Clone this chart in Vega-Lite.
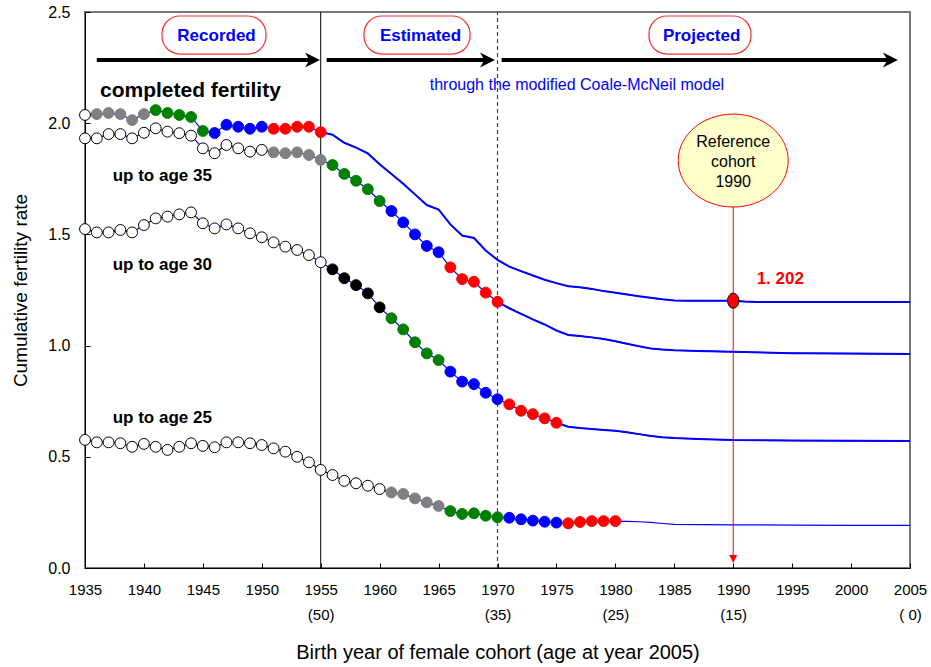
{
  "$schema": "https://vega.github.io/schema/vega-lite/v6.json",
  "width": 825,
  "height": 556,
  "autosize": {"type": "none"},
  "padding": {"left": 85, "top": 12, "right": 21, "bottom": 99},
  "background": "white",
  "config": {
    "view": {"stroke": "#777777", "strokeWidth": 2},
    "axis": {"grid": false, "domainColor": "#000000", "tickColor": "#000000", "labelColor": "#000000", "titleColor": "#000000", "titleFontWeight": "normal"}
  },
  "datasets": {
    "series": [
      {"series": "completed", "year": 1935, "rate": 2.037, "marker": "open"},
      {"series": "completed", "year": 1936, "rate": 2.041, "marker": "gray"},
      {"series": "completed", "year": 1937, "rate": 2.046, "marker": "gray"},
      {"series": "completed", "year": 1938, "rate": 2.041, "marker": "gray"},
      {"series": "completed", "year": 1939, "rate": 2.014, "marker": "gray"},
      {"series": "completed", "year": 1940, "rate": 2.041, "marker": "gray"},
      {"series": "completed", "year": 1941, "rate": 2.059, "marker": "green"},
      {"series": "completed", "year": 1942, "rate": 2.046, "marker": "green"},
      {"series": "completed", "year": 1943, "rate": 2.037, "marker": "green"},
      {"series": "completed", "year": 1944, "rate": 2.028, "marker": "green"},
      {"series": "completed", "year": 1945, "rate": 1.965, "marker": "green"},
      {"series": "completed", "year": 1946, "rate": 1.956, "marker": "blue"},
      {"series": "completed", "year": 1947, "rate": 1.993, "marker": "blue"},
      {"series": "completed", "year": 1948, "rate": 1.984, "marker": "blue"},
      {"series": "completed", "year": 1949, "rate": 1.975, "marker": "blue"},
      {"series": "completed", "year": 1950, "rate": 1.984, "marker": "blue"},
      {"series": "completed", "year": 1951, "rate": 1.975, "marker": "red"},
      {"series": "completed", "year": 1952, "rate": 1.975, "marker": "red"},
      {"series": "completed", "year": 1953, "rate": 1.984, "marker": "red"},
      {"series": "completed", "year": 1954, "rate": 1.984, "marker": "red"},
      {"series": "completed", "year": 1955, "rate": 1.960, "marker": "red"},
      {"series": "completed", "year": 1956, "rate": 1.948, "marker": "none"},
      {"series": "completed", "year": 1957, "rate": 1.912, "marker": "none"},
      {"series": "completed", "year": 1958, "rate": 1.890, "marker": "none"},
      {"series": "completed", "year": 1959, "rate": 1.864, "marker": "none"},
      {"series": "completed", "year": 1960, "rate": 1.815, "marker": "none"},
      {"series": "completed", "year": 1961, "rate": 1.772, "marker": "none"},
      {"series": "completed", "year": 1962, "rate": 1.728, "marker": "none"},
      {"series": "completed", "year": 1963, "rate": 1.680, "marker": "none"},
      {"series": "completed", "year": 1964, "rate": 1.632, "marker": "none"},
      {"series": "completed", "year": 1965, "rate": 1.612, "marker": "none"},
      {"series": "completed", "year": 1966, "rate": 1.545, "marker": "none"},
      {"series": "completed", "year": 1967, "rate": 1.495, "marker": "none"},
      {"series": "completed", "year": 1968, "rate": 1.484, "marker": "none"},
      {"series": "completed", "year": 1969, "rate": 1.428, "marker": "none"},
      {"series": "completed", "year": 1970, "rate": 1.385, "marker": "none"},
      {"series": "completed", "year": 1971, "rate": 1.355, "marker": "none"},
      {"series": "completed", "year": 1972, "rate": 1.335, "marker": "none"},
      {"series": "completed", "year": 1973, "rate": 1.315, "marker": "none"},
      {"series": "completed", "year": 1974, "rate": 1.296, "marker": "none"},
      {"series": "completed", "year": 1975, "rate": 1.281, "marker": "none"},
      {"series": "completed", "year": 1976, "rate": 1.267, "marker": "none"},
      {"series": "completed", "year": 1977, "rate": 1.262, "marker": "none"},
      {"series": "completed", "year": 1978, "rate": 1.255, "marker": "none"},
      {"series": "completed", "year": 1979, "rate": 1.245, "marker": "none"},
      {"series": "completed", "year": 1980, "rate": 1.238, "marker": "none"},
      {"series": "completed", "year": 1981, "rate": 1.230, "marker": "none"},
      {"series": "completed", "year": 1982, "rate": 1.222, "marker": "none"},
      {"series": "completed", "year": 1983, "rate": 1.215, "marker": "none"},
      {"series": "completed", "year": 1984, "rate": 1.208, "marker": "none"},
      {"series": "completed", "year": 1985, "rate": 1.203, "marker": "none"},
      {"series": "completed", "year": 1986, "rate": 1.202, "marker": "none"},
      {"series": "completed", "year": 1988, "rate": 1.202, "marker": "none"},
      {"series": "completed", "year": 1990, "rate": 1.202, "marker": "none"},
      {"series": "completed", "year": 1991, "rate": 1.198, "marker": "none"},
      {"series": "completed", "year": 1992, "rate": 1.196, "marker": "none"},
      {"series": "completed", "year": 1995, "rate": 1.196, "marker": "none"},
      {"series": "completed", "year": 2000, "rate": 1.196, "marker": "none"},
      {"series": "completed", "year": 2005, "rate": 1.196, "marker": "none"},

      {"series": "age35", "year": 1935, "rate": 1.932, "marker": "open"},
      {"series": "age35", "year": 1936, "rate": 1.932, "marker": "open"},
      {"series": "age35", "year": 1937, "rate": 1.951, "marker": "open"},
      {"series": "age35", "year": 1938, "rate": 1.951, "marker": "open"},
      {"series": "age35", "year": 1939, "rate": 1.932, "marker": "open"},
      {"series": "age35", "year": 1940, "rate": 1.957, "marker": "open"},
      {"series": "age35", "year": 1941, "rate": 1.977, "marker": "open"},
      {"series": "age35", "year": 1942, "rate": 1.962, "marker": "open"},
      {"series": "age35", "year": 1943, "rate": 1.955, "marker": "open"},
      {"series": "age35", "year": 1944, "rate": 1.944, "marker": "open"},
      {"series": "age35", "year": 1945, "rate": 1.887, "marker": "open"},
      {"series": "age35", "year": 1946, "rate": 1.865, "marker": "open"},
      {"series": "age35", "year": 1947, "rate": 1.902, "marker": "open"},
      {"series": "age35", "year": 1948, "rate": 1.887, "marker": "open"},
      {"series": "age35", "year": 1949, "rate": 1.872, "marker": "open"},
      {"series": "age35", "year": 1950, "rate": 1.880, "marker": "open"},
      {"series": "age35", "year": 1951, "rate": 1.869, "marker": "gray"},
      {"series": "age35", "year": 1952, "rate": 1.865, "marker": "gray"},
      {"series": "age35", "year": 1953, "rate": 1.869, "marker": "gray"},
      {"series": "age35", "year": 1954, "rate": 1.857, "marker": "gray"},
      {"series": "age35", "year": 1955, "rate": 1.835, "marker": "gray"},
      {"series": "age35", "year": 1956, "rate": 1.812, "marker": "green"},
      {"series": "age35", "year": 1957, "rate": 1.772, "marker": "green"},
      {"series": "age35", "year": 1958, "rate": 1.741, "marker": "green"},
      {"series": "age35", "year": 1959, "rate": 1.703, "marker": "green"},
      {"series": "age35", "year": 1960, "rate": 1.650, "marker": "green"},
      {"series": "age35", "year": 1961, "rate": 1.605, "marker": "blue"},
      {"series": "age35", "year": 1962, "rate": 1.554, "marker": "blue"},
      {"series": "age35", "year": 1963, "rate": 1.500, "marker": "blue"},
      {"series": "age35", "year": 1964, "rate": 1.448, "marker": "blue"},
      {"series": "age35", "year": 1965, "rate": 1.420, "marker": "blue"},
      {"series": "age35", "year": 1966, "rate": 1.352, "marker": "red"},
      {"series": "age35", "year": 1967, "rate": 1.299, "marker": "red"},
      {"series": "age35", "year": 1968, "rate": 1.287, "marker": "red"},
      {"series": "age35", "year": 1969, "rate": 1.238, "marker": "red"},
      {"series": "age35", "year": 1970, "rate": 1.197, "marker": "red"},
      {"series": "age35", "year": 1971, "rate": 1.168, "marker": "none"},
      {"series": "age35", "year": 1972, "rate": 1.143, "marker": "none"},
      {"series": "age35", "year": 1973, "rate": 1.118, "marker": "none"},
      {"series": "age35", "year": 1974, "rate": 1.095, "marker": "none"},
      {"series": "age35", "year": 1975, "rate": 1.068, "marker": "none"},
      {"series": "age35", "year": 1976, "rate": 1.048, "marker": "none"},
      {"series": "age35", "year": 1977, "rate": 1.043, "marker": "none"},
      {"series": "age35", "year": 1978, "rate": 1.037, "marker": "none"},
      {"series": "age35", "year": 1979, "rate": 1.030, "marker": "none"},
      {"series": "age35", "year": 1980, "rate": 1.020, "marker": "none"},
      {"series": "age35", "year": 1981, "rate": 1.008, "marker": "none"},
      {"series": "age35", "year": 1982, "rate": 0.997, "marker": "none"},
      {"series": "age35", "year": 1983, "rate": 0.987, "marker": "none"},
      {"series": "age35", "year": 1984, "rate": 0.982, "marker": "none"},
      {"series": "age35", "year": 1985, "rate": 0.979, "marker": "none"},
      {"series": "age35", "year": 1987, "rate": 0.976, "marker": "none"},
      {"series": "age35", "year": 1990, "rate": 0.972, "marker": "none"},
      {"series": "age35", "year": 1995, "rate": 0.966, "marker": "none"},
      {"series": "age35", "year": 2000, "rate": 0.964, "marker": "none"},
      {"series": "age35", "year": 2005, "rate": 0.962, "marker": "none"},

      {"series": "age30", "year": 1935, "rate": 1.524, "marker": "open"},
      {"series": "age30", "year": 1936, "rate": 1.509, "marker": "open"},
      {"series": "age30", "year": 1937, "rate": 1.509, "marker": "open"},
      {"series": "age30", "year": 1938, "rate": 1.520, "marker": "open"},
      {"series": "age30", "year": 1939, "rate": 1.509, "marker": "open"},
      {"series": "age30", "year": 1940, "rate": 1.542, "marker": "open"},
      {"series": "age30", "year": 1941, "rate": 1.572, "marker": "open"},
      {"series": "age30", "year": 1942, "rate": 1.580, "marker": "open"},
      {"series": "age30", "year": 1943, "rate": 1.590, "marker": "open"},
      {"series": "age30", "year": 1944, "rate": 1.599, "marker": "open"},
      {"series": "age30", "year": 1945, "rate": 1.550, "marker": "open"},
      {"series": "age30", "year": 1946, "rate": 1.527, "marker": "open"},
      {"series": "age30", "year": 1947, "rate": 1.545, "marker": "open"},
      {"series": "age30", "year": 1948, "rate": 1.527, "marker": "open"},
      {"series": "age30", "year": 1949, "rate": 1.505, "marker": "open"},
      {"series": "age30", "year": 1950, "rate": 1.487, "marker": "open"},
      {"series": "age30", "year": 1951, "rate": 1.464, "marker": "open"},
      {"series": "age30", "year": 1952, "rate": 1.445, "marker": "open"},
      {"series": "age30", "year": 1953, "rate": 1.430, "marker": "open"},
      {"series": "age30", "year": 1954, "rate": 1.407, "marker": "open"},
      {"series": "age30", "year": 1955, "rate": 1.375, "marker": "open"},
      {"series": "age30", "year": 1956, "rate": 1.343, "marker": "black"},
      {"series": "age30", "year": 1957, "rate": 1.303, "marker": "black"},
      {"series": "age30", "year": 1958, "rate": 1.272, "marker": "black"},
      {"series": "age30", "year": 1959, "rate": 1.235, "marker": "black"},
      {"series": "age30", "year": 1960, "rate": 1.172, "marker": "black"},
      {"series": "age30", "year": 1961, "rate": 1.123, "marker": "green"},
      {"series": "age30", "year": 1962, "rate": 1.073, "marker": "green"},
      {"series": "age30", "year": 1963, "rate": 1.015, "marker": "green"},
      {"series": "age30", "year": 1964, "rate": 0.965, "marker": "green"},
      {"series": "age30", "year": 1965, "rate": 0.935, "marker": "green"},
      {"series": "age30", "year": 1966, "rate": 0.883, "marker": "blue"},
      {"series": "age30", "year": 1967, "rate": 0.838, "marker": "blue"},
      {"series": "age30", "year": 1968, "rate": 0.827, "marker": "blue"},
      {"series": "age30", "year": 1969, "rate": 0.788, "marker": "blue"},
      {"series": "age30", "year": 1970, "rate": 0.759, "marker": "blue"},
      {"series": "age30", "year": 1971, "rate": 0.736, "marker": "red"},
      {"series": "age30", "year": 1972, "rate": 0.707, "marker": "red"},
      {"series": "age30", "year": 1973, "rate": 0.692, "marker": "red"},
      {"series": "age30", "year": 1974, "rate": 0.673, "marker": "red"},
      {"series": "age30", "year": 1975, "rate": 0.653, "marker": "red"},
      {"series": "age30", "year": 1976, "rate": 0.635, "marker": "none"},
      {"series": "age30", "year": 1977, "rate": 0.629, "marker": "none"},
      {"series": "age30", "year": 1978, "rate": 0.625, "marker": "none"},
      {"series": "age30", "year": 1979, "rate": 0.621, "marker": "none"},
      {"series": "age30", "year": 1980, "rate": 0.617, "marker": "none"},
      {"series": "age30", "year": 1981, "rate": 0.610, "marker": "none"},
      {"series": "age30", "year": 1982, "rate": 0.602, "marker": "none"},
      {"series": "age30", "year": 1983, "rate": 0.594, "marker": "none"},
      {"series": "age30", "year": 1984, "rate": 0.588, "marker": "none"},
      {"series": "age30", "year": 1985, "rate": 0.584, "marker": "none"},
      {"series": "age30", "year": 1987, "rate": 0.580, "marker": "none"},
      {"series": "age30", "year": 1990, "rate": 0.575, "marker": "none"},
      {"series": "age30", "year": 1995, "rate": 0.573, "marker": "none"},
      {"series": "age30", "year": 2000, "rate": 0.572, "marker": "none"},
      {"series": "age30", "year": 2005, "rate": 0.571, "marker": "none"},

      {"series": "age25", "year": 1935, "rate": 0.576, "marker": "open"},
      {"series": "age25", "year": 1936, "rate": 0.565, "marker": "open"},
      {"series": "age25", "year": 1937, "rate": 0.565, "marker": "open"},
      {"series": "age25", "year": 1938, "rate": 0.561, "marker": "open"},
      {"series": "age25", "year": 1939, "rate": 0.545, "marker": "open"},
      {"series": "age25", "year": 1940, "rate": 0.558, "marker": "open"},
      {"series": "age25", "year": 1941, "rate": 0.545, "marker": "open"},
      {"series": "age25", "year": 1942, "rate": 0.531, "marker": "open"},
      {"series": "age25", "year": 1943, "rate": 0.545, "marker": "open"},
      {"series": "age25", "year": 1944, "rate": 0.561, "marker": "open"},
      {"series": "age25", "year": 1945, "rate": 0.549, "marker": "open"},
      {"series": "age25", "year": 1946, "rate": 0.543, "marker": "open"},
      {"series": "age25", "year": 1947, "rate": 0.565, "marker": "open"},
      {"series": "age25", "year": 1948, "rate": 0.565, "marker": "open"},
      {"series": "age25", "year": 1949, "rate": 0.561, "marker": "open"},
      {"series": "age25", "year": 1950, "rate": 0.553, "marker": "open"},
      {"series": "age25", "year": 1951, "rate": 0.538, "marker": "open"},
      {"series": "age25", "year": 1952, "rate": 0.523, "marker": "open"},
      {"series": "age25", "year": 1953, "rate": 0.500, "marker": "open"},
      {"series": "age25", "year": 1954, "rate": 0.475, "marker": "open"},
      {"series": "age25", "year": 1955, "rate": 0.441, "marker": "open"},
      {"series": "age25", "year": 1956, "rate": 0.418, "marker": "open"},
      {"series": "age25", "year": 1957, "rate": 0.392, "marker": "open"},
      {"series": "age25", "year": 1958, "rate": 0.381, "marker": "open"},
      {"series": "age25", "year": 1959, "rate": 0.370, "marker": "open"},
      {"series": "age25", "year": 1960, "rate": 0.355, "marker": "open"},
      {"series": "age25", "year": 1961, "rate": 0.340, "marker": "gray"},
      {"series": "age25", "year": 1962, "rate": 0.333, "marker": "gray"},
      {"series": "age25", "year": 1963, "rate": 0.313, "marker": "gray"},
      {"series": "age25", "year": 1964, "rate": 0.295, "marker": "gray"},
      {"series": "age25", "year": 1965, "rate": 0.279, "marker": "gray"},
      {"series": "age25", "year": 1966, "rate": 0.256, "marker": "green"},
      {"series": "age25", "year": 1967, "rate": 0.243, "marker": "green"},
      {"series": "age25", "year": 1968, "rate": 0.246, "marker": "green"},
      {"series": "age25", "year": 1969, "rate": 0.235, "marker": "green"},
      {"series": "age25", "year": 1970, "rate": 0.228, "marker": "green"},
      {"series": "age25", "year": 1971, "rate": 0.226, "marker": "blue"},
      {"series": "age25", "year": 1972, "rate": 0.219, "marker": "blue"},
      {"series": "age25", "year": 1973, "rate": 0.213, "marker": "blue"},
      {"series": "age25", "year": 1974, "rate": 0.208, "marker": "blue"},
      {"series": "age25", "year": 1975, "rate": 0.204, "marker": "blue"},
      {"series": "age25", "year": 1976, "rate": 0.201, "marker": "red"},
      {"series": "age25", "year": 1977, "rate": 0.207, "marker": "red"},
      {"series": "age25", "year": 1978, "rate": 0.211, "marker": "red"},
      {"series": "age25", "year": 1979, "rate": 0.211, "marker": "red"},
      {"series": "age25", "year": 1980, "rate": 0.211, "marker": "red"},
      {"series": "age25", "year": 1981, "rate": 0.210, "marker": "none"},
      {"series": "age25", "year": 1982, "rate": 0.208, "marker": "none"},
      {"series": "age25", "year": 1983, "rate": 0.205, "marker": "none"},
      {"series": "age25", "year": 1984, "rate": 0.200, "marker": "none"},
      {"series": "age25", "year": 1985, "rate": 0.196, "marker": "none"},
      {"series": "age25", "year": 1990, "rate": 0.194, "marker": "none"},
      {"series": "age25", "year": 1995, "rate": 0.193, "marker": "none"},
      {"series": "age25", "year": 2000, "rate": 0.192, "marker": "none"},
      {"series": "age25", "year": 2005, "rate": 0.192, "marker": "none"}
    ]
  },
  "encoding": {
    "x": {
      "field": "year", "type": "quantitative",
      "scale": {"domain": [1935, 2005], "nice": false, "zero": false},
      "axis": {
        "title": "Birth year of female cohort (age at year 2005)",
        "titleFont": "Liberation Sans", "titleFontSize": 20, "titlePadding": 20,
        "values": [1935, 1940, 1945, 1950, 1955, 1960, 1965, 1970, 1975, 1980, 1985, 1990, 1995, 2000, 2005],
        "labelExpr": "datum.value == 1955 ? ['1955', '(50)'] : datum.value == 1970 ? ['1970', '(35)'] : datum.value == 1980 ? ['1980', '(25)'] : datum.value == 1990 ? ['1990', '(15)'] : datum.value == 2005 ? ['2005', '( 0)'] : datum.label",
        "format": "d",
        "labelFont": "Liberation Sans", "labelFontSize": 15, "labelLineHeight": 25,
        "labelPadding": 19, "tickSize": -5, "labelFlush": false, "labelOverlap": false
      }
    },
    "y": {
      "field": "rate", "type": "quantitative",
      "scale": {"domain": [0, 2.5], "nice": false, "zero": true},
      "axis": {
        "title": "Cumulative fertility rate",
        "titleFont": "Liberation Sans", "titleFontSize": 19, "titlePadding": 17,
        "values": [0, 0.5, 1, 1.5, 2, 2.5], "format": ".1f",
        "labelFont": "Liberation Sans", "labelFontSize": 16,
        "labelPadding": 20, "tickSize": -5, "labelFlush": false, "labelOverlap": false
      }
    }
  },
  "layer": [
    {
      "data": {"values": [{"year": 1955, "rate": 0, "rate2": 2.5}]},
      "mark": {"type": "rule", "color": "#000000", "strokeWidth": 1},
      "encoding": {"y2": {"field": "rate2"}}
    },
    {
      "data": {"values": [{"year": 1970, "rate": 0, "rate2": 2.5}]},
      "mark": {"type": "rule", "color": "#444444", "strokeWidth": 1.2, "strokeDash": [4, 3]},
      "encoding": {"y2": {"field": "rate2"}}
    },
    {
      "data": {"name": "series"},
      "mark": {"type": "line", "color": "#0000FF", "strokeWidth": 1.2},
      "encoding": {"detail": {"field": "series"}}
    },
    {
      "data": {"name": "series"},
      "transform": [{"filter": "(datum.series == 'completed' && datum.year >= 1955) || (datum.series == 'age35' && datum.year >= 1970) || (datum.series == 'age30' && datum.year >= 1975)"}],
      "mark": {"type": "line", "color": "#0000FF", "strokeWidth": 2},
      "encoding": {"detail": {"field": "series"}}
    },
    {
      "data": {"name": "series"},
      "transform": [{"filter": "datum.marker != 'none'"}],
      "mark": {"type": "point", "shape": "circle", "filled": true, "size": 118, "strokeWidth": 1, "opacity": 1},
      "encoding": {
        "fill": {"field": "marker", "type": "nominal", "legend": null,
          "scale": {"domain": ["open", "gray", "green", "blue", "red", "black"], "range": ["#FFFFFF", "#808080", "#008000", "#0000FF", "#FF0000", "#000000"]}},
        "stroke": {"field": "marker", "type": "nominal", "legend": null,
          "scale": {"domain": ["open", "gray", "green", "blue", "red", "black"], "range": ["#000000", "#808080", "#008000", "#0000FF", "#FF0000", "#000000"]}}
      }
    },
    {
      "data": {"values": [
        {"year": 1936, "year2": 1954.3, "rate": 2.284},
        {"year": 1955.5, "year2": 1969.15, "rate": 2.284},
        {"year": 1970.35, "year2": 2003.34, "rate": 2.284}
      ]},
      "mark": {"type": "rule", "color": "#000000", "strokeWidth": 4},
      "encoding": {"x2": {"field": "year2"}}
    },
    {
      "data": {"values": [
        {"year": 1954.3, "rate": 2.284},
        {"year": 1969.15, "rate": 2.284},
        {"year": 2003.34, "rate": 2.284}
      ]},
      "mark": {"type": "point", "shape": "M1,0L-1,-1L-0.4,0L-1,1Z", "size": 225, "filled": true, "color": "#000000", "opacity": 1, "strokeWidth": 0}
    },
    {
      "data": {"values": [
        {"year": 1941.53, "year2": 1950.36, "rate": 2.482, "rate2": 2.311, "label": "Recorded"},
        {"year": 1958.67, "year2": 1967.67, "rate": 2.482, "rate2": 2.311, "label": "Estimated"},
        {"year": 1982.85, "year2": 1991.51, "rate": 2.482, "rate2": 2.311, "label": "Projected"}
      ]},
      "mark": {"type": "rect", "fill": "#FFFFFF", "stroke": "#FF3030", "strokeWidth": 1.2, "cornerRadius": 18},
      "encoding": {"x2": {"field": "year2"}, "y2": {"field": "rate2"}}
    },
    {
      "data": {"values": [
        {"year": 1946.16, "rate": 2.392, "label": "Recorded"},
        {"year": 1963.47, "rate": 2.392, "label": "Estimated"},
        {"year": 1987.32, "rate": 2.392, "label": "Projected"}
      ]},
      "mark": {"type": "text", "font": "Liberation Sans", "fontWeight": "bold", "fontSize": 17, "color": "#0000FF", "align": "center", "baseline": "middle"},
      "encoding": {"text": {"field": "label"}}
    },
    {
      "data": {"values": [{"year": 1936.27, "rate": 2.118, "label": "completed fertility"}]},
      "mark": {"type": "text", "font": "Liberation Sans", "fontWeight": "bold", "fontSize": 21, "color": "#000000", "align": "left", "baseline": "alphabetic"},
      "encoding": {"text": {"field": "label"}}
    },
    {
      "data": {"values": [
        {"year": 1937.35, "rate": 1.741, "label": "up to age 35"},
        {"year": 1937.35, "rate": 1.340, "label": "up to age 30"},
        {"year": 1937.35, "rate": 0.651, "label": "up to age 25"}
      ]},
      "mark": {"type": "text", "font": "Liberation Sans", "fontWeight": "bold", "fontSize": 17, "color": "#000000", "align": "left", "baseline": "alphabetic"},
      "encoding": {"text": {"field": "label"}}
    },
    {
      "data": {"values": [{"year": 1976.74, "rate": 2.149, "label": "through the modified Coale-McNeil model"}]},
      "mark": {"type": "text", "font": "Liberation Sans", "fontSize": 16, "color": "#0000FF", "align": "center", "baseline": "alphabetic"},
      "encoding": {"text": {"field": "label"}}
    },
    {
      "data": {"values": [{"year": 1990, "rate": 1.623, "rate2": 0.04}]},
      "mark": {"type": "rule", "color": "#FF0000", "strokeWidth": 1},
      "encoding": {"y2": {"field": "rate2"}}
    },
    {
      "data": {"values": [{"year": 1990, "rate": 0.04}]},
      "mark": {"type": "point", "shape": "M0,1L-1,-1L1,-1Z", "size": 64, "filled": true, "color": "#FF0000", "opacity": 1, "strokeWidth": 0}
    },
    {
      "data": {"values": [{"year": 1990, "rate": 1.832}]},
      "mark": {"type": "point", "shape": "M-1,0A1,0.845,0,1,1,1,0A1,0.845,0,1,1,-1,0Z", "size": 12100, "filled": true, "fill": "#FFFFCC", "stroke": "#FF0000", "strokeWidth": 1, "opacity": 1}
    },
    {
      "data": {"values": [
        {"year": 1990, "rate": 1.917, "label": "Reference"},
        {"year": 1990, "rate": 1.827, "label": "cohort"},
        {"year": 1990, "rate": 1.737, "label": "1990"}
      ]},
      "mark": {"type": "text", "font": "Liberation Sans", "fontSize": 16, "color": "#000000", "align": "center", "baseline": "middle"},
      "encoding": {"text": {"field": "label"}}
    },
    {
      "data": {"values": [{"year": 1990, "rate": 1.202}]},
      "mark": {"type": "point", "shape": "M0,-1A0.75,1,0,1,1,0,1A0.75,1,0,1,1,0,-1Z", "size": 225, "filled": true, "fill": "#FF0000", "stroke": "#000000", "strokeWidth": 1, "opacity": 1}
    },
    {
      "data": {"values": [{"year": 1991.99, "rate": 1.277, "label": "1. 202"}]},
      "mark": {"type": "text", "font": "Liberation Sans", "fontWeight": "bold", "fontSize": 17, "color": "#FF0000", "align": "left", "baseline": "alphabetic"},
      "encoding": {"text": {"field": "label"}}
    }
  ]
}
